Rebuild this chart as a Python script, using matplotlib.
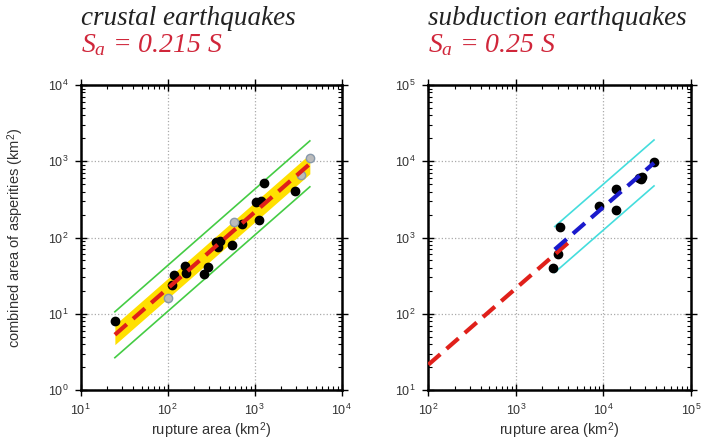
import numpy as np
from matplotlib import pyplot as plt

plt.rcParams['font.family'] = ['Liberation Sans', 'DejaVu Sans']
plt.rcParams['mathtext.fontset'] = 'custom'
plt.rcParams['mathtext.it'] = 'Liberation Serif:italic'
plt.rcParams['mathtext.rm'] = 'Liberation Serif:italic'

# crustal earthquakes: rupture area vs combined area of asperities (km^2)
crust_x = [24.7, 111, 119, 158, 161, 262, 294, 358, 402, 378, 547, 714, 1036, 1194, 1132, 1271, 2895]
crust_y = [8.0, 23.5, 32, 42, 34.5, 33.5, 41.5, 88.5, 90, 74, 79, 150, 295, 305, 171, 515, 412]
crust_gray_x = [100, 572, 3363, 4277]
crust_gray_y = [16, 158, 670, 1112]
crust_coef = 0.215
crust_range = [24.7, 4300]
crust_band = 1.35   # yellow band factor
crust_bound = 2.0   # green lines factor

# subduction earthquakes
sub_x = [2667, 3040, 3177, 8950, 13900, 13900, 25700, 28000, 27000, 38100]
sub_y = [394, 603, 1355, 2615, 4335, 2290, 6050, 6180, 5900, 9750]
sub_coef = 0.25
sub_range = [2786, 38000]
sub_bound = 2.0
crust_ext_range = [100, 4370]

fig = plt.figure(figsize=(7.03, 4.43), dpi=100)
ax1 = fig.add_axes([0.1148, 0.1196, 0.3713, 0.6885])
ax2 = fig.add_axes([0.6093, 0.1196, 0.3733, 0.6885])


def style(ax, xlim, ylim):
    ax.set_xscale('log')
    ax.set_yscale('log')
    ax.set_xlim(xlim)
    ax.set_ylim(ylim)
    ax.grid(True, which='major', color='#aaaaaa', linestyle=':', linewidth=0.9)
    for s in ax.spines.values():
        s.set_linewidth(1.8)
    ax.tick_params(which='major', direction='inout', length=8, width=1.0,
                   top=True, right=True, labelsize=9, labelcolor='#333333', pad=5)
    ax.tick_params(which='minor', direction='in', length=3, width=0.8,
                   top=True, right=True)
    ax.set_xlabel('rupture area (km$^{\\mathdefault{2}}$)', fontsize=10.5, color='#333333')
    ax.xaxis.set_label_coords(0.5, -0.134)
    ax.xaxis.label.set_va('center')


# left panel
style(ax1, (10, 1e4), (1, 1e4))
xx = np.logspace(np.log10(crust_range[0]), np.log10(crust_range[1]), 50)
ax1.fill_between(xx, crust_coef * xx / crust_band, crust_coef * xx * crust_band,
                 color='#ffe000', lw=0, zorder=2)
ax1.plot(xx, crust_coef * xx * crust_bound, color='#44cc44', lw=1.2, zorder=3)
ax1.plot(xx, crust_coef * xx / crust_bound, color='#44cc44', lw=1.2, zorder=3)
ax1.plot(crust_x, crust_y, 'o', color='black', ms=6, zorder=4)
ax1.plot(crust_gray_x, crust_gray_y, 'o', mfc='#bbbbbb', mec='#8899aa', ms=6, zorder=4)
ax1.plot(xx, crust_coef * xx, color='#e0201a', lw=3, dashes=(3.8, 2), zorder=5)
ax1.set_ylabel('combined area of asperities (km$^{\\mathdefault{2}}$)', fontsize=10.5,
               color='#333333')
ax1.yaxis.set_label_coords(-0.248, 0.5)
ax1.yaxis.label.set_va('center')

# right panel
style(ax2, (100, 1e5), (10, 1e5))
xr = np.array(crust_ext_range, dtype=float)
ax2.plot(xr, crust_coef * xr, color='#e0201a', lw=3, dashes=(3.8, 2), zorder=5)
xs = np.array(sub_range, dtype=float)
ax2.plot(xs, sub_coef * xs * sub_bound, color='#44dddd', lw=1.2, zorder=3)
ax2.plot(xs, sub_coef * xs / sub_bound, color='#44dddd', lw=1.2, zorder=3)
ax2.plot(sub_x, sub_y, 'o', color='black', ms=6, zorder=4)
ax2.plot(xs, sub_coef * xs, color='#1a1acc', lw=3, dashes=(3.8, 2), zorder=6)

# titles
fig.text(80.7 / 703, 1 - 25 / 443, 'crustal earthquakes', family='Liberation Serif',
         style='italic', fontsize=19.5, color='#222222', va='baseline')
fig.text(80.7 / 703, 1 - 52 / 443, r'$S_a$ = 0.215 S', family='Liberation Serif',
         style='italic', fontsize=20, color='#d0263a', va='baseline')
fig.text(428.3 / 703, 1 - 25 / 443, 'subduction earthquakes', family='Liberation Serif',
         style='italic', fontsize=19.5, color='#222222', va='baseline')
fig.text(428.3 / 703, 1 - 52 / 443, r'$S_a$ = 0.25 S', family='Liberation Serif',
         style='italic', fontsize=20, color='#d0263a', va='baseline')

fig.savefig('out.png', dpi=100)
